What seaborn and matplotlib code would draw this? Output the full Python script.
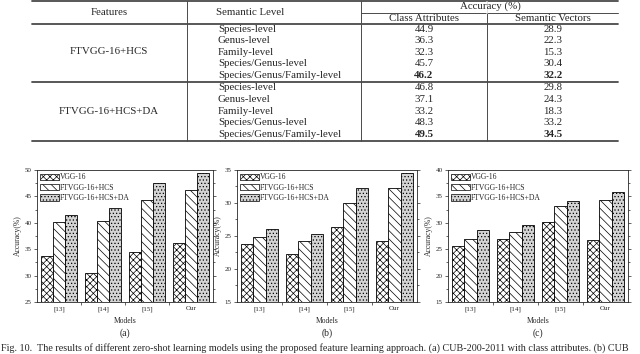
import pandas as pd
import seaborn as sns
import matplotlib.pyplot as plt
from matplotlib.patches import Patch
from matplotlib.ticker import MultipleLocator, FixedLocator

# table data
features = ["FTVGG-16+HCS", "FTVGG-16+HCS+DA"]
levels = ["Species-level", "Genus-level", "Family-level",
          "Species/Genus-level", "Species/Genus/Family-level"]
hcs_attr = [44.9, 36.3, 32.3, 45.7, 46.2]
hcs_vec = [28.9, 22.3, 15.3, 30.4, 32.2]
da_attr = [46.8, 37.1, 33.2, 48.3, 49.5]
da_vec = [29.8, 24.3, 18.3, 33.2, 34.5]

# bar chart data
models = ["[13]", "[14]", "[15]", "Our"]
methods = ["VGG-16", "FTVGG-16+HCS", "FTVGG-16+HCS+DA"]
vgg_a = [33.8, 30.4, 34.4, 36.2]
hcs_a = [40.2, 40.3, 44.4, 46.2]
da_a = [41.4, 42.8, 47.5, 49.5]
vgg_b = [23.8, 22.3, 26.4, 24.2]
hcs_b = [24.9, 24.2, 30.0, 32.2]
da_b = [26.1, 25.3, 32.2, 34.5]
vgg_c = [25.6, 26.9, 30.1, 26.7]
hcs_c = [26.9, 28.2, 33.2, 34.3]
da_c = [28.7, 29.5, 34.1, 35.9]
ylims = [(25, 50), (15, 35), (15, 40)]
panel_tags = ["(a)", "(b)", "(c)"]

hatches = ["xxxxx", "\\\\\\\\", "....."]
fills = ["white", "white", "#d4d4d4"]

sns.set_style("ticks")
plt.rcParams["font.family"] = ["Liberation Serif", "DejaVu Serif"]
plt.rcParams["hatch.linewidth"] = 0.5

fig = plt.figure(figsize=(6.4, 3.54), dpi=100)

# ---- table + caption drawn in pixel coordinates ----
tax = fig.add_axes([0, 0, 1, 1])
tax.set_xlim(0, 640)
tax.set_ylim(354, 0)
tax.axis("off")
tax.set_zorder(-1)

lc = "#4a4a4a"
fs = 7.8
for y in [1, 24, 82, 141]:
    tax.plot([32, 618], [y, y], color=lc, lw=1.3)
tax.plot([361, 618], [13, 13], color=lc, lw=0.7)
for x in [187, 361, 487]:
    tax.plot([x, x], [1, 141], color=lc, lw=0.7)
tax.plot([487, 487], [1.8, 12.5], color="white", lw=1.2)

tax.text(109, 12.5, "Features", ha="center", va="center", fontsize=fs)
tax.text(250, 12.5, "Semantic Level", ha="center", va="center", fontsize=fs)
tax.text(490, 6.5, "Accuracy (%)", ha="center", va="center", fontsize=fs)
tax.text(424, 18.5, "Class Attributes", ha="center", va="center", fontsize=fs)
tax.text(553, 18.5, "Semantic Vectors", ha="center", va="center", fontsize=fs)

groups = [(features[0], hcs_attr, hcs_vec, 29), (features[1], da_attr, da_vec, 88)]
for name, attr, vec, y0 in groups:
    tax.text(109, y0 + 23, name, ha="center", va="center", fontsize=fs)
    for i, lev in enumerate(levels):
        y = y0 + i * 11.6
        w = "bold" if i == len(levels) - 1 else "normal"
        tax.text(218, y, lev, ha="left", va="center", fontsize=fs)
        tax.text(424, y, f"{attr[i]:.1f}", ha="center", va="center", fontsize=fs, weight=w)
        tax.text(553, y, f"{vec[i]:.1f}", ha="center", va="center", fontsize=fs, weight=w)

tax.text(1, 353, "Fig. 10.  The results of different zero-shot learning models using the "
         "proposed feature learning approach. (a) CUB-200-2011 with class attributes. (b) CUB",
         ha="left", va="bottom", fontsize=7.3)

# ---- bar charts ----
panels = [(vgg_a, hcs_a, da_a), (vgg_b, hcs_b, da_b), (vgg_c, hcs_c, da_c)]
boxes = [[37 / 640, 0.1469, 176 / 640, 0.3729],
         [237 / 640, 0.1469, 180 / 640, 0.3729],
         [448 / 640, 0.1469, 180 / 640, 0.3729]]

for k, (vals, box) in enumerate(zip(panels, boxes)):
    ax = fig.add_axes(box)
    df = pd.DataFrame({
        "Model": models * 3,
        "Method": [m for m in methods for _ in models],
        "Accuracy": list(vals[0]) + list(vals[1]) + list(vals[2]),
    })
    sns.barplot(data=df, x="Model", y="Accuracy", hue="Method", ax=ax,
                palette=fills, saturation=1, width=0.84, edgecolor="black",
                linewidth=0.6, legend=False)
    for cont, h in zip(ax.containers, hatches):
        for bar in cont:
            bar.set_hatch(h)

    ax.set_ylim(*ylims[k])
    ax.set_xlim(-0.5, 3.5)
    ax.yaxis.set_major_locator(MultipleLocator(5))
    ax.yaxis.set_minor_locator(MultipleLocator(2.5))
    ax.xaxis.set_minor_locator(FixedLocator([0.5, 1.5, 2.5]))
    ax.tick_params(axis="y", which="both", direction="out", right=True,
                   labelsize=5, width=0.5, pad=1.5)
    ax.tick_params(axis="y", which="major", length=2.5)
    ax.tick_params(axis="y", which="minor", length=1.5)
    ax.tick_params(axis="x", which="major", length=0, labelsize=5, pad=3)
    ax.tick_params(axis="x", which="minor", length=2, width=0.5, direction="out")
    for s in ax.spines.values():
        s.set_linewidth(0.6)
    ax.set_ylabel("Accuracy(%)", fontsize=5.5, labelpad=2)
    ax.set_xlabel("Models", fontsize=5.5, labelpad=4)
    ax.text(0.5, -0.2, panel_tags[k], transform=ax.transAxes,
            ha="center", va="top", fontsize=7)

    handles = [Patch(facecolor=f, edgecolor="black", hatch=h, linewidth=0.5, label=m)
               for f, h, m in zip(fills, hatches, methods)]
    ax.legend(handles=handles, loc="upper left", frameon=False, fontsize=5.5,
              handlelength=2.4, handleheight=0.9, handletextpad=0.15,
              labelspacing=0.3, borderaxespad=0.25, borderpad=0.2)

fig.savefig("out.png", dpi=100)
